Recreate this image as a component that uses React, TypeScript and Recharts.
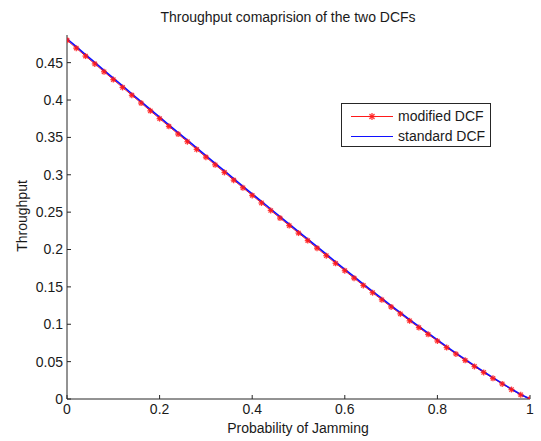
import React from 'react';
import { LineChart, Line, XAxis, YAxis, Legend } from 'recharts';

const probabilities = [
  0, 0.02, 0.04, 0.06, 0.08, 0.1, 0.12, 0.14, 0.16, 0.18,
  0.2, 0.22, 0.24, 0.26, 0.28, 0.3, 0.32, 0.34, 0.36, 0.38,
  0.4, 0.42, 0.44, 0.46, 0.48, 0.5, 0.52, 0.54, 0.56, 0.58,
  0.6, 0.62, 0.64, 0.66, 0.68, 0.7, 0.72, 0.74, 0.76, 0.78,
  0.8, 0.82, 0.84, 0.86, 0.88, 0.9, 0.92, 0.94, 0.96, 0.98, 1,
];

const standardDCF = [
  0.482, 0.4714, 0.4608, 0.4503, 0.4398, 0.4293, 0.4188, 0.4084, 0.398, 0.3875,
  0.3771, 0.3668, 0.3565, 0.3462, 0.3359, 0.3256, 0.3153, 0.3051, 0.2948, 0.2846,
  0.2744, 0.2643, 0.2542, 0.2441, 0.234, 0.224, 0.2139, 0.2038, 0.1937, 0.1836,
  0.1735, 0.1636, 0.1538, 0.1441, 0.1345, 0.125, 0.1156, 0.1063, 0.0971, 0.088,
  0.079, 0.0701, 0.0614, 0.0529, 0.0446, 0.0365, 0.0286, 0.0209, 0.0134, 0.0061, 0,
];

const modifiedDCF = [
  0.4800, 0.4694, 0.4588, 0.4483, 0.4378, 0.4273, 0.4168, 0.4064, 0.396, 0.3855,
  0.3751, 0.3648, 0.3545, 0.3442, 0.3339, 0.3236, 0.3133, 0.3031, 0.2928, 0.2826,
  0.2724, 0.2623, 0.2522, 0.2421, 0.232, 0.222, 0.2119, 0.2018, 0.1917, 0.1816,
  0.1716, 0.1617, 0.1519, 0.1422, 0.1327, 0.1232, 0.1139, 0.1046, 0.0955, 0.0865,
  0.0776, 0.0688, 0.0602, 0.0517, 0.0435, 0.0355, 0.0277, 0.0201, 0.0127, 0.0056, 0,
];

const xTicks = [0, 0.2, 0.4, 0.6, 0.8, 1];
const yTicks = [0, 0.05, 0.1, 0.15, 0.2, 0.25, 0.3, 0.35, 0.4, 0.45];

const seriesNames = ['modified DCF', 'standard DCF'];
const titleText = 'Throughput comaprision of the two DCFs';
const xLabelText = 'Probability of Jamming';
const yLabelText = 'Throughput';

const data = probabilities.map((p, i) => ({
  p,
  modified: modifiedDCF[i],
  standard: standardDCF[i],
}));

const FONT = "'Liberation Sans', Arial, Helvetica, sans-serif";
const RED = '#ff1a1a';
const BLUE = '#1010ff';
const AXIS = '#262626';

const Asterisk = (props: any) => {
  const { cx, cy, r: rr } = props;
  if (cx == null || cy == null) return null;
  const r = typeof rr === 'number' && rr > 0 ? rr : 4.5;
  const d = r * 0.72;
  return (
    <g stroke={RED} strokeWidth={1.3} fill="none" strokeOpacity={0.85}>
      <line x1={cx - r} y1={cy} x2={cx + r} y2={cy} />
      <line x1={cx} y1={cy - r} x2={cx} y2={cy + r} />
      <line x1={cx - d} y1={cy - d} x2={cx + d} y2={cy + d} />
      <line x1={cx - d} y1={cy + d} x2={cx + d} y2={cy - d} />
    </g>
  );
};

const LegendBox = () => (
  <div
    style={{
      width: 148,
      height: 42,
      border: `1px solid ${AXIS}`,
      background: '#fff',
      fontFamily: FONT,
      fontSize: 14,
      color: '#1a1a1a',
      boxSizing: 'content-box',
    }}
  >
    {seriesNames.map((name, i) => (
      <div key={name} style={{ position: 'relative', height: 20, marginTop: i === 0 ? 2 : 0 }}>
        <svg width={48} height={20} style={{ position: 'absolute', left: 6, top: 0 }}>
          <line x1={3} y1={10.5} x2={45} y2={10.5} stroke={i === 0 ? RED : BLUE} strokeWidth={1.2} />
          {i === 0 ? <Asterisk cx={24} cy={10.5} r={3.5} /> : null}
        </svg>
        <span style={{ position: 'absolute', left: 56, top: 2, lineHeight: '16px', whiteSpace: 'nowrap' }}>
          {name}
        </span>
      </div>
    ))}
  </div>
);

const YLabel = () => (
  <text
    x={21.5}
    y={216}
    transform="rotate(-90 21.5 216)"
    textAnchor="middle"
    dominantBaseline="central"
    fontFamily={FONT}
    fontSize={14}
    fill="#1a1a1a"
  >
    {yLabelText}
  </text>
);

const XLabel = () => (
  <text
    x={298}
    y={428}
    textAnchor="middle"
    dominantBaseline="central"
    fontFamily={FONT}
    fontSize={14}
    fill="#1a1a1a"
  >
    {xLabelText}
  </text>
);

export default function App() {
  return (
    <div style={{ position: 'absolute', left: 0, top: 0, width: 541, height: 441, background: '#fff' }}>
      <div
        style={{
          position: 'absolute',
          left: 0,
          top: 9,
          width: 576,
          textAlign: 'center',
          fontFamily: FONT,
          fontSize: 14,
          lineHeight: '16px',
          color: '#1a1a1a',
        }}
      >
        {titleText}
      </div>
      <LineChart
        width={541}
        height={441}
        data={data}
        margin={{ top: 35, right: 11, bottom: 12, left: 0 }}
        style={{ position: 'absolute', left: 0, top: 0 }}
      >
        <XAxis
          dataKey="p"
          type="number"
          domain={[0, 1]}
          ticks={xTicks}
          tickFormatter={(v: number) => String(v)}
          height={30}
          axisLine={{ stroke: AXIS, strokeWidth: 1 }}
          tickLine={{ stroke: AXIS, strokeWidth: 1 }}
          tickSize={-4}
          tickMargin={9}
          tick={{ fontFamily: FONT, fontSize: 14, fill: '#1a1a1a' }}
          label={<XLabel />}
          allowDataOverflow
        />
        <YAxis
          type="number"
          domain={[0, 0.487]}
          ticks={yTicks}
          tickFormatter={(v: number) => String(v)}
          width={67}
          axisLine={{ stroke: AXIS, strokeWidth: 1 }}
          tickLine={{ stroke: AXIS, strokeWidth: 1 }}
          tickSize={-4}
          tickMargin={8}
          tick={{ fontFamily: FONT, fontSize: 14, fill: '#1a1a1a' }}
          label={<YLabel />}
          allowDataOverflow
        />
        <Legend
          layout="vertical"
          align="center"
          verticalAlign="middle"
          content={<LegendBox />}
          wrapperStyle={{ left: 341, top: 103, width: 150, height: 44 }}
        />
        <Line
          dataKey="modified"
          name={seriesNames[0]}
          stroke={RED}
          strokeWidth={1}
          dot={<Asterisk />}
          isAnimationActive={false}
        />
        <Line
          dataKey="standard"
          name={seriesNames[1]}
          stroke={BLUE}
          strokeWidth={1.6}
          dot={false}
          isAnimationActive={false}
        />
      </LineChart>
    </div>
  );
}
